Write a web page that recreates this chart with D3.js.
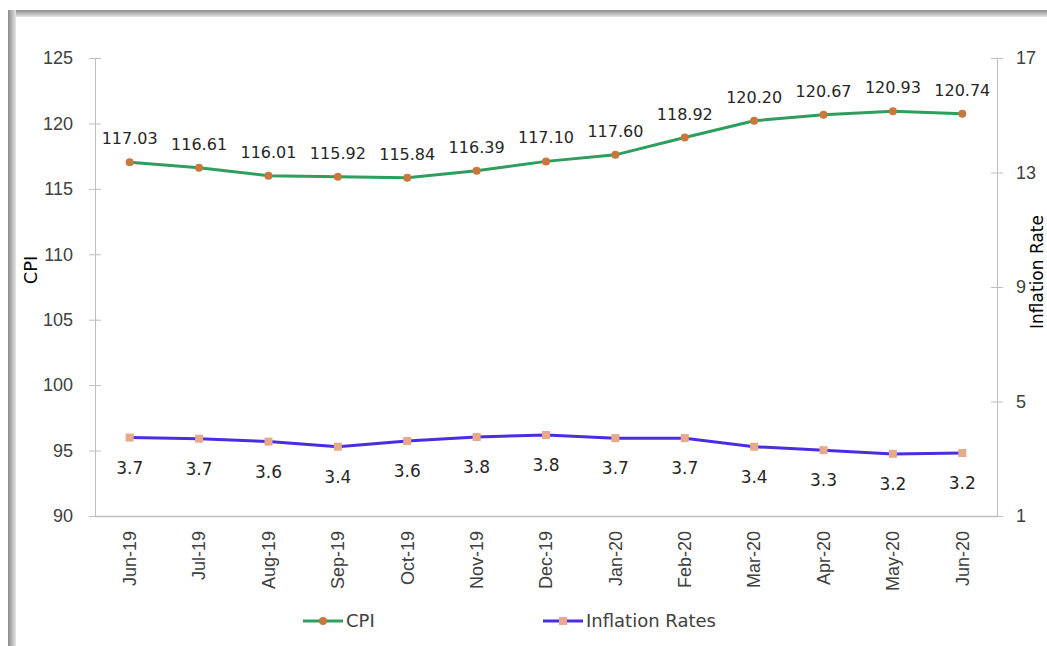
<!DOCTYPE html>
<html>
<head>
<meta charset="utf-8">
<script src="https://cdn.jsdelivr.net/npm/d3@7"></script>
<style>
  body { margin: 0; background: #fff; }
  svg { display: block; font-family: "DejaVu Sans", sans-serif; }
</style>
</head>
<body>
<svg width="1047" height="646"></svg>
<script>
const months = ["Jun-19", "Jul-19", "Aug-19", "Sep-19", "Oct-19", "Nov-19", "Dec-19",
  "Jan-20", "Feb-20", "Mar-20", "Apr-20", "May-20", "Jun-20"];
const cpi = [117.03, 116.61, 116.01, 115.92, 115.84, 116.39, 117.10, 117.60, 118.92, 120.20, 120.67, 120.93, 120.74];
const inflation = [3.74, 3.70, 3.60, 3.42, 3.62, 3.76, 3.83, 3.72, 3.72, 3.42, 3.30, 3.17, 3.20];
const cpiTicks = [90, 95, 100, 105, 110, 115, 120, 125];
const rateTicks = [1, 5, 9, 13, 17];

const svg = d3.select("svg");

// frame shadow on top and left
const defs = svg.append("defs");
const gTop = defs.append("linearGradient").attr("id", "gt").attr("x1", 0).attr("y1", 0).attr("x2", 0).attr("y2", 1);
gTop.append("stop").attr("offset", "0%").attr("stop-color", "#8a8a8a");
gTop.append("stop").attr("offset", "100%").attr("stop-color", "#e6e6e6");
const gLeft = defs.append("linearGradient").attr("id", "gl").attr("x1", 0).attr("y1", 0).attr("x2", 1).attr("y2", 0);
gLeft.append("stop").attr("offset", "0%").attr("stop-color", "#8a8a8a");
gLeft.append("stop").attr("offset", "100%").attr("stop-color", "#e6e6e6");
svg.append("rect").attr("x", 8).attr("y", 10).attr("width", 1039).attr("height", 7).attr("fill", "url(#gt)");
svg.append("rect").attr("x", 8).attr("y", 10).attr("width", 8).attr("height", 636).attr("fill", "url(#gl)");

const plotL = 95, plotR = 997, plotT = 58, plotB = 516;

const x = d3.scaleBand().domain(months).range([plotL, plotR]);
const cx = d => x(d) + x.bandwidth() / 2;
const y = d3.scaleLinear().domain([90, 125]).range([plotB, plotT]);
const y2 = d3.scaleLinear().domain([1, 17]).range([plotB, plotT]);

const axisColor = "#bfbfbf";
const textColor = "#404040";

// left axis
const yAxis = svg.append("g").attr("transform", `translate(${plotL},0)`)
  .call(d3.axisLeft(y).tickValues(cpiTicks).tickSizeInner(6).tickSizeOuter(0).tickPadding(16));
yAxis.selectAll(".tick line").attr("x2", 6).attr("x1", -6);
// right axis
const y2Axis = svg.append("g").attr("transform", `translate(${plotR},0)`)
  .call(d3.axisRight(y2).tickValues(rateTicks).tickSizeInner(6).tickSizeOuter(0).tickPadding(13));
y2Axis.selectAll(".tick line").attr("x1", -6).attr("x2", 6);
[yAxis, y2Axis].forEach(a => {
  a.select(".domain").attr("stroke", axisColor);
  a.selectAll(".tick line").attr("stroke", axisColor);
  a.selectAll(".tick text").attr("fill", textColor).style("font-size", "18px");
});

// bottom axis
const xAxis = svg.append("g").attr("transform", `translate(0,${plotB})`)
  .call(d3.axisBottom(x).tickSize(0).tickSizeOuter(0));
xAxis.select(".domain").attr("stroke", axisColor).attr("stroke-width", 1.5);
xAxis.selectAll(".tick text")
  .attr("fill", textColor).style("font-size", "18px")
  .attr("text-anchor", "end").attr("dy", "0.35em")
  .attr("transform", "translate(0,15) rotate(-90)")
  .attr("x", 0).attr("y", 0);

// axis titles
svg.append("text").attr("transform", `translate(37,270) rotate(-90)`)
  .attr("text-anchor", "middle").attr("fill", "#000").style("font-size", "18px").text("CPI");
svg.append("text").attr("transform", `translate(1043,272) rotate(-90)`)
  .attr("text-anchor", "middle").attr("fill", "#000").style("font-size", "17px").text("Inflation Rate");

const line = d3.line();

// CPI series
svg.append("path")
  .attr("d", line(months.map((m, i) => [cx(m), y(cpi[i])])))
  .attr("fill", "none").attr("stroke", "#2e9e5e").attr("stroke-width", 3);
svg.selectAll(".cpiDot").data(cpi).enter().append("circle")
  .attr("cx", (d, i) => cx(months[i])).attr("cy", d => y(d)).attr("r", 4)
  .attr("fill", "#c9773c");
svg.selectAll(".cpiLab").data(cpi).enter().append("text")
  .attr("x", (d, i) => cx(months[i])).attr("y", d => y(d) - 18)
  .attr("text-anchor", "middle").attr("fill", "#262626").style("font-size", "16px")
  .text(d => d.toFixed(2));

// Inflation series
svg.append("path")
  .attr("d", line(months.map((m, i) => [cx(m), y2(inflation[i])])))
  .attr("fill", "none").attr("stroke", "#4a2de0").attr("stroke-width", 3);
svg.selectAll(".infDot").data(inflation).enter().append("rect")
  .attr("x", (d, i) => cx(months[i]) - 4).attr("y", d => y2(d) - 4)
  .attr("width", 8).attr("height", 8).attr("fill", "#e8a88a");
svg.selectAll(".infLab").data(inflation).enter().append("text")
  .attr("x", (d, i) => cx(months[i])).attr("y", d => y2(d) + 36)
  .attr("text-anchor", "middle").attr("fill", "#262626").style("font-size", "17px")
  .text(d => d.toFixed(1));

// legend
const legend = [
  { name: "CPI", color: "#2e9e5e", marker: "#c9773c", x: 303 },
  { name: "Inflation Rates", color: "#4a2de0", marker: "#e8a88a", x: 543 }
];
legend.forEach(l => {
  const g = svg.append("g").attr("transform", `translate(${l.x},621)`);
  g.append("line").attr("x1", 0).attr("x2", 40).attr("stroke", l.color).attr("stroke-width", 3);
  if (l.name === "CPI") g.append("circle").attr("cx", 20).attr("r", 4).attr("fill", l.marker);
  else g.append("rect").attr("x", 16).attr("y", -4).attr("width", 8).attr("height", 8).attr("fill", l.marker);
  g.append("text").attr("x", 43).attr("dy", "0.35em").attr("fill", textColor)
    .style("font-size", "18px").text(l.name);
});
</script>
</body>
</html>
